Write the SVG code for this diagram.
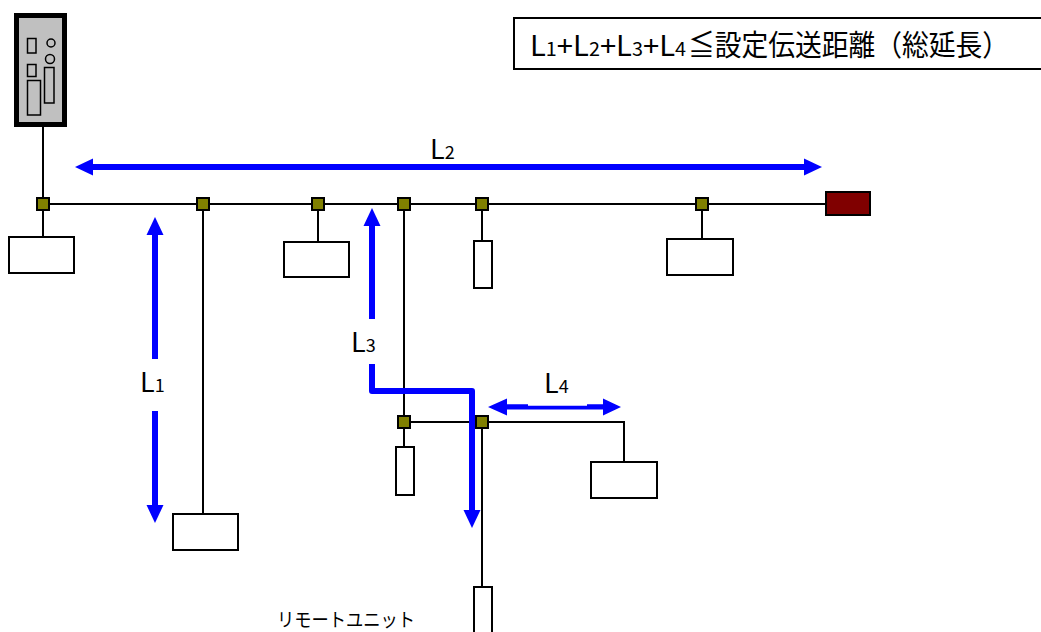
<svg xmlns="http://www.w3.org/2000/svg" width="1041" height="632" viewBox="0 0 1041 632">
<style>
.ln{stroke:#000;stroke-width:2;fill:none}
.box{fill:#fff;stroke:#000;stroke-width:2}
.jn{fill:#808000;stroke:#000;stroke-width:2}
.pc{fill:#c0c0c0;stroke:#000;stroke-width:1.5}
.arr{stroke:#0000ff;stroke-width:6;fill:none}
.t{font-family:"Noto Sans CJK JP","Liberation Sans",sans-serif;fill:#000}
</style>
<defs>
<marker id="ah" markerUnits="userSpaceOnUse" markerWidth="18" markerHeight="18" viewBox="0 0 18 18" refX="1" refY="9" orient="auto-start-reverse">
<path d="M0,0.5 L18,9 L0,17.5 z" fill="#0000ff"/>
</marker>
</defs>
<rect width="1041" height="632" fill="#fff"/>

<g id="title">
<rect x="514" y="18" width="540" height="51" fill="#fff" stroke="#000" stroke-width="2"/>
<text class="t" x="530" y="56" font-size="28" textLength="156" lengthAdjust="spacingAndGlyphs">L<tspan font-size="19">1</tspan>+L<tspan font-size="19">2</tspan>+L<tspan font-size="19">3</tspan>+L<tspan font-size="19">4</tspan></text>
<text class="t" x="688" y="56" font-size="29" textLength="321" lengthAdjust="spacingAndGlyphs">≦設定伝送距離（総延長）</text>
</g>

<g id="connectors">
<line class="ln" x1="43" y1="127" x2="43" y2="237"/>
<line class="ln" x1="43" y1="204" x2="826" y2="204"/>
<line class="ln" x1="203" y1="204" x2="203" y2="514"/>
<line class="ln" x1="318" y1="204" x2="318" y2="242"/>
<line class="ln" x1="404" y1="204" x2="404" y2="447"/>
<line class="ln" x1="482" y1="204" x2="482" y2="241"/>
<line class="ln" x1="702" y1="204" x2="702" y2="239"/>
<polyline class="ln" points="404,422 624,422 624,462"/>
<line class="ln" x1="482" y1="422" x2="482" y2="587"/>
</g>

<g id="pc">
<rect x="16.5" y="15.5" width="48" height="109" fill="#c0c0c0" stroke="#000" stroke-width="5"/>
<rect class="pc" x="27.5" y="38.5" width="8.5" height="14.5"/>
<circle class="pc" cx="51" cy="43" r="4"/>
<circle class="pc" cx="50" cy="59" r="4.5"/>
<rect class="pc" x="27.5" y="64.5" width="8.5" height="12"/>
<rect class="pc" x="27.5" y="80.5" width="13" height="34.5"/>
<rect class="pc" x="44.5" y="67.5" width="9.5" height="35.5"/>
</g>

<g id="j1"><rect class="jn" x="37" y="198" width="12" height="12"/></g>
<g id="j2"><rect class="jn" x="197" y="198" width="12" height="12"/></g>
<g id="j3"><rect class="jn" x="312" y="198" width="12" height="12"/></g>
<g id="j4"><rect class="jn" x="398" y="198" width="12" height="12"/></g>
<g id="j5"><rect class="jn" x="476" y="198" width="12" height="12"/></g>
<g id="j6"><rect class="jn" x="696" y="198" width="12" height="12"/></g>
<g id="j7"><rect class="jn" x="398" y="416" width="12" height="12"/></g>
<g id="j8"><rect class="jn" x="476" y="416" width="12" height="12"/></g>

<g id="terminator"><rect x="826" y="192" width="44" height="23" fill="#800000" stroke="#000" stroke-width="2"/></g>

<g id="unit1"><rect class="box" x="9" y="237" width="65" height="36"/></g>
<g id="unit2"><rect class="box" x="173" y="514" width="65" height="36"/></g>
<g id="unit3"><rect class="box" x="284" y="242" width="65" height="35"/></g>
<g id="unit4"><rect class="box" x="474" y="241" width="18" height="47"/></g>
<g id="unit5"><rect class="box" x="667" y="239" width="66" height="36"/></g>
<g id="unit6"><rect class="box" x="396" y="447" width="18" height="48"/></g>
<g id="unit7"><rect class="box" x="591" y="462" width="66" height="36"/></g>
<g id="unit8"><rect class="box" x="474" y="587" width="18" height="50"/></g>

<g id="dimensions">
<line class="arr" x1="92" y1="167" x2="805" y2="167" marker-start="url(#ah)" marker-end="url(#ah)"/>
<line class="arr" x1="155" y1="359" x2="155" y2="234" marker-end="url(#ah)"/>
<line class="arr" x1="155" y1="411" x2="155" y2="506" marker-end="url(#ah)"/>
<line class="arr" x1="372" y1="319" x2="372" y2="225" marker-end="url(#ah)"/>
<path class="arr" d="M372,364 V391 H472 V511" stroke-linejoin="round" marker-end="url(#ah)"/>
<path d="M488,407 L507,398.5 L507,404.3 L528,404.3 L528,405.8 L587,405.8 L587,404.3 L603,404.3 L603,398.5 L621,407 L603,415.5 L603,409.5 L507,409.5 L507,415.5 z" fill="#0000ff"/>
</g>

<g id="labels">
<text class="t" x="430" y="159" font-size="27">L<tspan font-size="18">2</tspan></text>
<text class="t" x="140" y="392" font-size="27">L<tspan font-size="18">1</tspan></text>
<text class="t" x="351" y="352" font-size="27">L<tspan font-size="18">3</tspan></text>
<text class="t" x="544" y="393" font-size="27">L<tspan font-size="18">4</tspan></text>
<text class="t" x="277" y="627" font-size="19" textLength="138" lengthAdjust="spacingAndGlyphs">リモートユニット</text>
</g>
</svg>
